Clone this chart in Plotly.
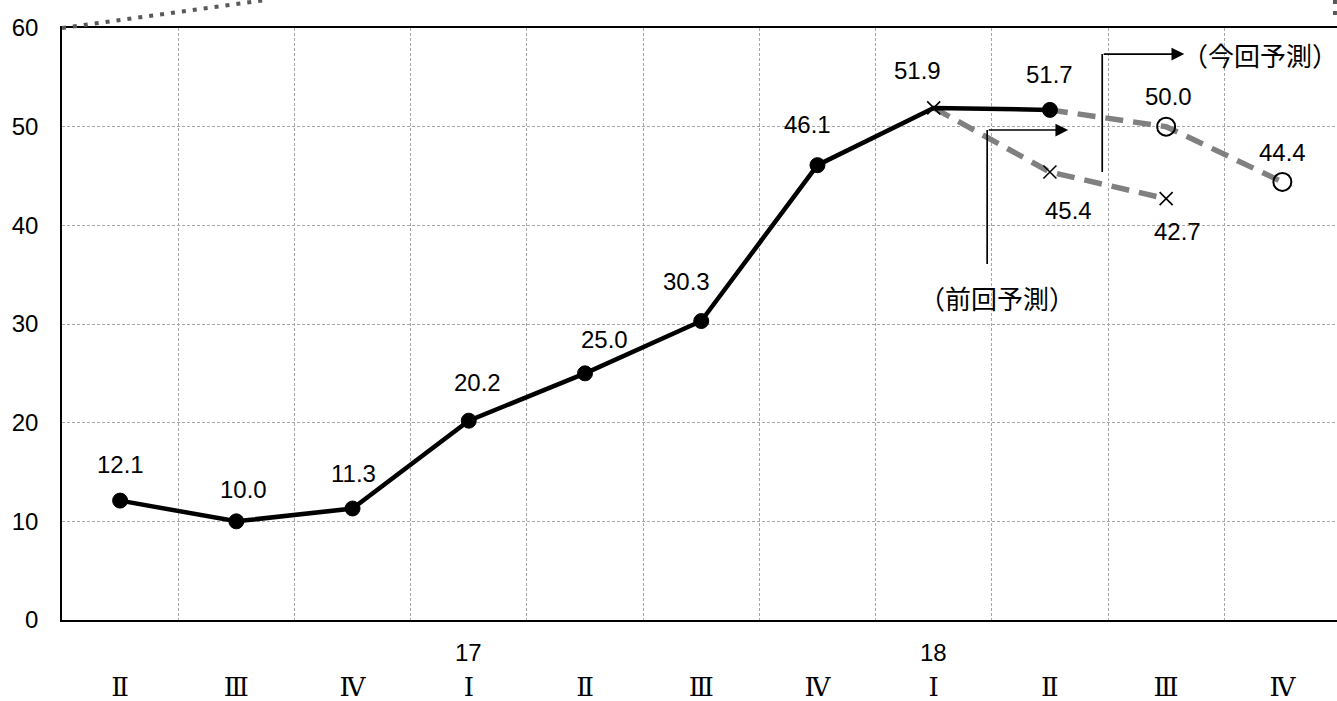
import plotly.graph_objects as go

# ---- data ----
quarters = ["Ⅱ", "Ⅲ", "Ⅳ", "Ⅰ", "Ⅱ", "Ⅲ", "Ⅳ", "Ⅰ", "Ⅱ", "Ⅲ", "Ⅳ"]
year_labels = {3: "17", 7: "18"}
actual = [12.1, 10.0, 11.3, 20.2, 25.0, 30.3, 46.1, 51.9, 51.7, None, None]
prev_forecast = [None] * 7 + [51.9, 45.4, 42.7, None]
curr_forecast = [None] * 8 + [51.7, 50.0, 44.4]

# label offsets (px) for the value labels
actual_label_shift = [(0, 36), (7, 32), (1, 35), (9, 38), (19, 34), (-15, 40),
                      (-10, 41), (-16, 37), (0, 35), None, None]
prev_label_shift = [None] * 8 + [(19, -38), (11, -33), None]
curr_label_shift = [None] * 9 + [(2, 30), (0, 29)]

x = list(range(len(quarters)))
NUM_FONT = "Liberation Sans, Arial, Noto Sans CJK JP, sans-serif"
JP_FONT = "Noto Sans CJK JP, sans-serif"
ROMAN_FONT = "DejaVu Serif, Noto Sans CJK JP, serif"

fig = go.Figure()

fig.add_trace(go.Scatter(
    x=x, y=prev_forecast, mode="lines+markers",
    line=dict(color="#808080", width=5.5, dash="18px,10px"),
    marker=dict(symbol="x-thin", size=13, color="black", opacity=1,
                line=dict(color="black", width=1.6)),
    showlegend=False, hoverinfo="skip"))
fig.add_trace(go.Scatter(
    x=x, y=curr_forecast, mode="lines+markers",
    line=dict(color="#808080", width=5.5, dash="18px,10px"),
    marker=dict(symbol="circle-open", size=[0] * 9 + [18, 18], color="black", opacity=1,
                line=dict(color="black", width=2)),
    showlegend=False, hoverinfo="skip"))
fig.add_trace(go.Scatter(
    x=x, y=actual, mode="lines+markers",
    line=dict(color="black", width=4.5),
    marker=dict(symbol="circle", size=[15] * 7 + [0, 15] + [0, 0], color="#000000",
                opacity=1, line=dict(color="#000000", width=1)),
    showlegend=False, hoverinfo="skip"))

annotations = []
for series, shifts in ((actual, actual_label_shift), (prev_forecast, prev_label_shift),
                       (curr_forecast, curr_label_shift)):
    for i, (v, s) in enumerate(zip(series, shifts)):
        if v is None or s is None:
            continue
        annotations.append(dict(x=i, y=v, text=f"{v:.1f}", showarrow=False,
                                xshift=s[0], yshift=s[1],
                                font=dict(family=NUM_FONT, size=24, color="black")))

# year labels under the axis
for i, yl in year_labels.items():
    annotations.append(dict(x=i, y=0, yref="y", text=yl, showarrow=False,
                            yshift=-32, font=dict(family=NUM_FONT, size=24, color="black")))

# callouts
annotations.append(dict(x=8.157, y=49.66, ax=7.460, ay=49.66, axref="x", ayref="y",
                        showarrow=True, arrowhead=2, arrowsize=1.5, arrowwidth=1.7,
                        arrowcolor="black", text=""))
annotations.append(dict(x=9.156, y=57.36, ax=8.450, ay=57.36, axref="x", ayref="y",
                        showarrow=True, arrowhead=2, arrowsize=1.5, arrowwidth=1.7,
                        arrowcolor="black", text=""))
annotations.append(dict(x=7.546, y=36.08, yshift=-33, text="（前回予測）", showarrow=False,
                        font=dict(family=JP_FONT, size=26, color="black")))
annotations.append(dict(x=9.115, y=57.36, xanchor="left", text="（今回予測）", showarrow=False,
                        font=dict(family=JP_FONT, size=26, color="black")))

shapes = [
    dict(type="line", xref="x", yref="y", x0=7.460, x1=7.460, y0=36.08, y1=49.66,
         line=dict(color="black", width=1.7)),
    dict(type="line", xref="x", yref="y", x0=8.450, x1=8.450, y0=45.41, y1=57.36,
         line=dict(color="black", width=1.7)),
    # decorative dotted border pieces
    dict(type="line", xref="paper", yref="paper", x0=0, y0=1.0, x1=0.159, y1=1.047,
         line=dict(color="#595959", width=4, dash="4px,7px")),
    dict(type="line", xref="paper", yref="paper", x0=0.9984, y0=1.022, x1=0.9984, y1=1.05,
         line=dict(color="#595959", width=4, dash="4px,7px")),
]

fig.update_layout(
    width=1337, height=701,
    margin=dict(l=62, r=0, t=28, b=81),
    plot_bgcolor="white", paper_bgcolor="white",
    font=dict(family=NUM_FONT, size=24, color="black"),
    annotations=annotations, shapes=shapes,
    xaxis=dict(range=[-0.5, 10.47], tickmode="array", tickvals=x, ticktext=quarters,
               showgrid=False, showline=True, linecolor="black", linewidth=2,
               mirror=True, ticks="", ticklabelstandoff=43,
               tickfont=dict(family=ROMAN_FONT, size=26, color="black"),
               minor=dict(tick0=0.5, dtick=1, showgrid=True, gridcolor="#a6a6a6",
                          griddash="3px,2px", gridwidth=1, ticks=""),
               zeroline=False, fixedrange=True),
    yaxis=dict(range=[0, 60], tickvals=[0, 10, 20, 30, 40, 50, 60],
               showgrid=True, gridcolor="#a6a6a6", griddash="3px,2px", gridwidth=1,
               showline=True, linecolor="black", linewidth=1.5,
               ticks="", ticklabelstandoff=17, zeroline=False,
               tickfont=dict(family=NUM_FONT, size=24, color="black"), fixedrange=True),
)

fig.write_html("out.html", config={"displayModeBar": False},
               post_script="document.body.style.margin='0';document.body.style.overflow='hidden';")
